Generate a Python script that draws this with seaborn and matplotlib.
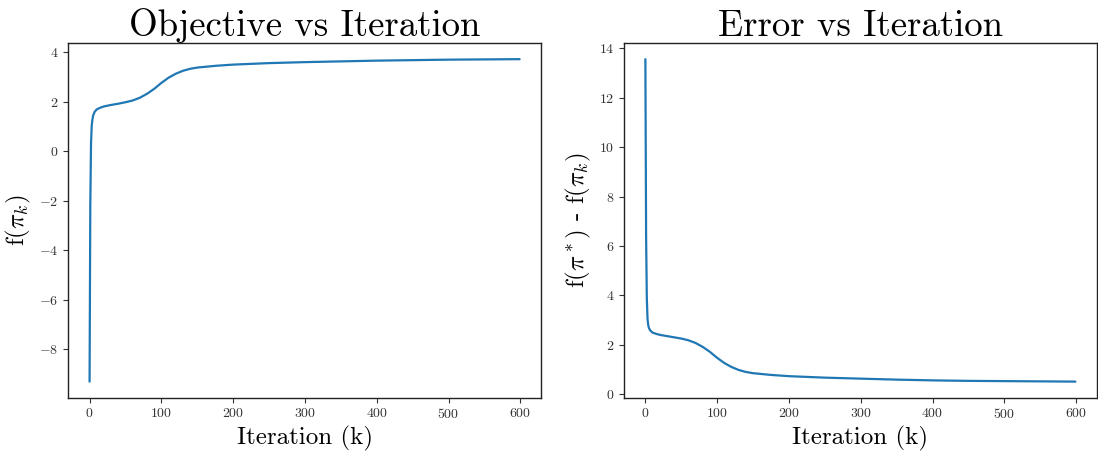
import numpy as np
import matplotlib
matplotlib.use("Agg")
import matplotlib.pyplot as plt
import seaborn as sns
import pandas as pd

# values
iters = [0, 1, 2, 3, 4, 5, 7, 10, 15, 20, 30, 40, 50, 60, 70, 80, 90, 100,
         110, 120, 130, 140, 150, 175, 200, 250, 300, 350, 400, 450, 500,
         550, 599]
objective = [-9.3, -2.2, 0.3, 1.05, 1.3, 1.45, 1.6, 1.7, 1.77, 1.82, 1.88,
             1.93, 1.99, 2.06, 2.17, 2.33, 2.53, 2.77, 2.98, 3.14, 3.26,
             3.34, 3.39, 3.46, 3.51, 3.57, 3.61, 3.64, 3.67, 3.69, 3.71,
             3.72, 3.73]
error = [13.55, 6.4, 3.9, 3.05, 2.8, 2.68, 2.58, 2.5, 2.45, 2.41, 2.36,
         2.31, 2.26, 2.19, 2.08, 1.92, 1.72, 1.48, 1.27, 1.11, 0.99, 0.91,
         0.86, 0.79, 0.74, 0.68, 0.64, 0.60, 0.57, 0.55, 0.54, 0.53, 0.52]

df = pd.DataFrame({"k": iters, "obj": objective, "err": error})

sns.set_style("ticks", {"text.color": "black", "axes.labelcolor": "black",
                        "xtick.color": "black", "ytick.color": "black",
                        "axes.edgecolor": "black"})
plt.rcParams["font.family"] = ["cmr10", "DejaVu Serif"]
plt.rcParams["mathtext.fontset"] = "cm"
plt.rcParams["axes.formatter.use_mathtext"] = True
plt.rcParams["axes.unicode_minus"] = True

fig, ax = plt.subplots(1, 2, figsize=(10.98, 4.53), dpi=100)
fig.subplots_adjust(left=0.062, right=0.999, bottom=0.122, top=0.905,
                    wspace=0.175)

line_color = "#1f77b4"
sns.lineplot(data=df, x="k", y="obj", ax=ax[0], color=line_color, lw=1.6)
sns.lineplot(data=df, x="k", y="err", ax=ax[1], color=line_color, lw=1.6)

ax[0].set_title("Objective vs Iteration", fontsize=26.5, pad=3)
ax[0].set_xlabel("Iteration (k)", fontsize=18, labelpad=3)
ax[0].set_ylabel(r"f($\pi_k$)", fontsize=18)
ax[0].set_yticks([-8, -6, -4, -2, 0, 2, 4])

ax[1].set_title("Error vs Iteration", fontsize=26.5, pad=3)
ax[1].set_xlabel("Iteration (k)", fontsize=18, labelpad=3)
ax[1].set_ylabel(r"f($\pi^*$) - f($\pi_k$)", fontsize=18)
ax[1].set_yticks([0, 2, 4, 6, 8, 10, 12, 14])

for a in ax:
    a.set_xticks([0, 100, 200, 300, 400, 500, 600])
    a.tick_params(labelsize=10, colors="#333333")
    for s in a.spines.values():
        s.set_linewidth(1.0)
        s.set_color("#222222")

plt.savefig("out.png", dpi=100)
